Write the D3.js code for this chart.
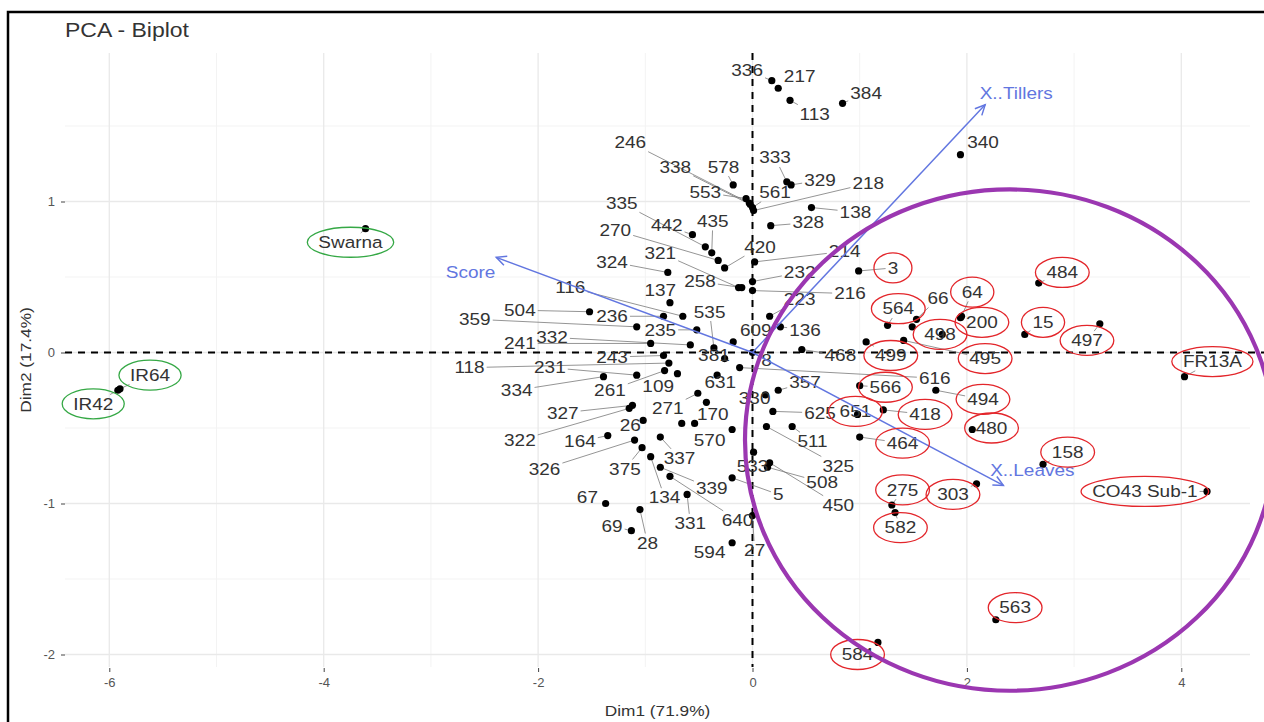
<!DOCTYPE html>
<html>
<head>
<meta charset="utf-8">
<script src="https://cdn.jsdelivr.net/npm/d3@7"></script>
<style>
  body { margin: 0; background: #fff; }
  text { font-family: "Liberation Sans", Arial, sans-serif; }
</style>
</head>
<body>
<svg id="chart" width="1264" height="722"></svg>
<script>
// ---- data: [name, Dim1, Dim2, label Dim1, label Dim2]
const checkVarieties = [
  ["Swarna", -3.61, 0.82, -3.75, 0.73],
  ["IR64", -5.90, -0.24, -5.62, -0.15],
  ["IR42", -5.92, -0.25, -6.15, -0.34]
];

const tolerantLines = [
  ["3", 0.99, 0.54, 1.31, 0.56],
  ["564", 1.26, 0.18, 1.36, 0.29],
  ["64", 1.95, 0.24, 2.05, 0.40],
  ["200", 1.94, 0.23, 2.14, 0.20],
  ["498", 1.77, 0.12, 1.75, 0.12],
  ["499", 1.06, 0.07, 1.29, -0.02],
  ["495", 1.41, 0.08, 2.17, -0.04],
  ["566", 1.00, -0.22, 1.24, -0.23],
  ["494", 1.71, -0.25, 2.15, -0.31],
  ["651", 0.98, -0.41, 0.96, -0.39],
  ["418", 1.22, -0.38, 1.61, -0.41],
  ["464", 1.00, -0.56, 1.40, -0.60],
  ["480", 2.05, -0.51, 2.23, -0.50],
  ["15", 2.54, 0.12, 2.71, 0.20],
  ["484", 2.67, 0.46, 2.89, 0.53],
  ["497", 3.24, 0.19, 3.12, 0.08],
  ["FR13A", 4.03, -0.16, 4.29, -0.06],
  ["158", 2.71, -0.74, 2.94, -0.66],
  ["CO43 Sub-1", 4.24, -0.92, 3.66, -0.92],
  ["303", 2.09, -0.87, 1.87, -0.94],
  ["275", 1.30, -1.01, 1.40, -0.91],
  ["582", 1.33, -1.06, 1.38, -1.16],
  ["563", 2.27, -1.77, 2.45, -1.69],
  ["584", 1.17, -1.92, 0.98, -2.00]
];

const otherLines = [
  ["336", 0.18, 1.80, -0.05, 1.87],
  ["217", 0.24, 1.75, 0.44, 1.83],
  ["113", 0.35, 1.67, 0.58, 1.58],
  ["384", 0.84, 1.65, 1.06, 1.72],
  ["340", 1.94, 1.31, 2.15, 1.39],
  ["246", -0.03, 0.99, -1.14, 1.39],
  ["338", -0.02, 0.98, -0.72, 1.23],
  ["578", -0.18, 1.11, -0.27, 1.23],
  ["553", -0.06, 1.02, -0.44, 1.06],
  ["561", 0.00, 0.96, 0.21, 1.06],
  ["333", 0.32, 1.13, 0.21, 1.29],
  ["329", 0.36, 1.11, 0.63, 1.14],
  ["218", 0.01, 0.94, 1.08, 1.12],
  ["138", 0.55, 0.96, 0.96, 0.93],
  ["328", 0.17, 0.84, 0.52, 0.86],
  ["335", -0.44, 0.70, -1.22, 0.99],
  ["442", -0.56, 0.78, -0.80, 0.84],
  ["435", -0.38, 0.66, -0.37, 0.87],
  ["270", -0.32, 0.61, -1.28, 0.81],
  ["420", -0.26, 0.56, 0.07, 0.70],
  ["321", -0.13, 0.43, -0.86, 0.66],
  ["258", -0.10, 0.43, -0.49, 0.47],
  ["324", -0.79, 0.53, -1.31, 0.60],
  ["137", -0.77, 0.33, -0.86, 0.41],
  ["116", -0.65, 0.24, -1.70, 0.43],
  ["504", -1.52, 0.27, -2.17, 0.28],
  ["359", -1.08, 0.17, -2.59, 0.22],
  ["236", -0.83, 0.24, -1.31, 0.24],
  ["235", -0.52, 0.15, -0.86, 0.15],
  ["535", -0.36, 0.03, -0.40, 0.27],
  ["609", -0.18, 0.07, 0.03, 0.15],
  ["332", -0.58, 0.05, -1.87, 0.10],
  ["241", -0.95, 0.06, -2.17, 0.06],
  ["243", -0.83, -0.02, -1.31, -0.03],
  ["118", -0.78, -0.07, -2.64, -0.10],
  ["381", -0.26, -0.04, -0.36, -0.02],
  ["231", -1.08, -0.15, -1.89, -0.10],
  ["334", -1.39, -0.16, -2.20, -0.25],
  ["261", -0.82, -0.12, -1.33, -0.25],
  ["109", -0.70, -0.14, -0.88, -0.22],
  ["631", -0.33, -0.15, -0.30, -0.20],
  ["327", -1.12, -0.35, -1.77, -0.40],
  ["322", -1.15, -0.37, -2.17, -0.58],
  ["271", -0.51, -0.27, -0.79, -0.37],
  ["26", -1.02, -0.45, -1.14, -0.48],
  ["170", -0.43, -0.33, -0.37, -0.41],
  ["164", -1.35, -0.55, -1.61, -0.59],
  ["570", -0.19, -0.51, -0.40, -0.58],
  ["326", -1.10, -0.58, -1.94, -0.77],
  ["375", -1.03, -0.63, -1.19, -0.77],
  ["337", -0.86, -0.56, -0.68, -0.70],
  ["339", -0.86, -0.76, -0.38, -0.90],
  ["134", -0.95, -0.69, -0.82, -0.96],
  ["331", -0.61, -0.94, -0.58, -1.13],
  ["640", -0.77, -0.82, -0.14, -1.11],
  ["5", -0.19, -0.83, 0.24, -0.94],
  ["67", -1.37, -1.00, -1.54, -0.96],
  ["69", -1.13, -1.18, -1.31, -1.15],
  ["28", -1.05, -1.04, -0.98, -1.26],
  ["594", -0.19, -1.26, -0.40, -1.32],
  ["27", 0.00, -1.08, 0.02, -1.31],
  ["533", 0.01, -0.66, 0.00, -0.75],
  ["508", 0.14, -0.76, 0.65, -0.86],
  ["450", 0.16, -0.73, 0.80, -1.01],
  ["511", 0.37, -0.49, 0.56, -0.59],
  ["325", 0.13, -0.49, 0.80, -0.75],
  ["625", 0.19, -0.39, 0.63, -0.40],
  ["357", 0.24, -0.25, 0.49, -0.20],
  ["330", 0.12, -0.28, 0.02, -0.30],
  ["468", 0.46, 0.02, 0.82, -0.02],
  ["136", 0.26, 0.17, 0.49, 0.15],
  ["223", 0.16, 0.24, 0.44, 0.35],
  ["216", 0.00, 0.41, 0.91, 0.39],
  ["232", 0.00, 0.47, 0.44, 0.53],
  ["214", 0.02, 0.60, 0.86, 0.67],
  ["616", -0.12, -0.10, 1.70, -0.17],
  ["66", 1.53, 0.22, 1.73, 0.36],
  ["8", 0.00, 0.00, 0.13, -0.05]
];

// points whose labels were dropped by the repel step
const unlabeledPoints = [
  [-0.66, -0.47], [-0.54, -0.47], [1.49, 0.17]
];

// variables: [name, Dim1, Dim2, label Dim1, label Dim2]
const variables = [
  ["Score", -2.39, 0.63, -2.63, 0.53],
  ["X..Tillers", 2.17, 1.64, 2.46, 1.72],
  ["X..Leaves", 2.34, -0.88, 2.61, -0.78]
];

const xTicks = [-6, -4, -2, 0, 2, 4];
const yTicks = [-2, -1, 0, 1];
const xMinor = [-5, -3, -1, 1, 3];
const yMinor = [-1.5, -0.5, 0.5, 1.5];

// hand drawn group ellipse (Dim units)
const groupEllipse = { cx: 2.40, cy: -0.58, rx: 2.47, ry: 1.66 };

// ---- layout
const svg = d3.select("#chart");
const panel = { left: 65, right: 1250, top: 53, bottom: 667 };
const STRETCH = 1.15;

const x = d3.scaleLinear().domain([-6, 4]).range([109.3, 1181.3]);
const y = d3.scaleLinear().domain([-2, 1]).range([654.5, 201.5]);

// text helper: the reference renders type slightly wide
function addText(g, px, py, str, size, fill, anchor, rot) {
  return g.append("text")
    .attr("transform", `translate(${px},${py})` + (rot ? ` rotate(${rot})` : "") + ` scale(${STRETCH},1)`)
    .attr("text-anchor", anchor || "middle")
    .attr("font-size", size)
    .attr("fill", fill)
    .text(str);
}

// border of the screenshot
svg.append("path")
  .attr("d", "M8,722 V12 H1264")
  .attr("fill", "none").attr("stroke", "#000").attr("stroke-width", 2.5);

// grid
const grid = svg.append("g");
grid.selectAll(".minx").data(xMinor).enter().append("line")
  .attr("x1", d => x(d)).attr("x2", d => x(d))
  .attr("y1", panel.top).attr("y2", panel.bottom)
  .attr("stroke", "#f3f3f3").attr("stroke-width", 1);
grid.selectAll(".miny").data(yMinor).enter().append("line")
  .attr("y1", d => y(d)).attr("y2", d => y(d))
  .attr("x1", panel.left).attr("x2", panel.right)
  .attr("stroke", "#f3f3f3").attr("stroke-width", 1);
grid.selectAll(".majx").data(xTicks).enter().append("line")
  .attr("x1", d => x(d)).attr("x2", d => x(d))
  .attr("y1", panel.top).attr("y2", panel.bottom)
  .attr("stroke", "#e9e9e9").attr("stroke-width", 1.3);
grid.selectAll(".majy").data(yTicks).enter().append("line")
  .attr("y1", d => y(d)).attr("y2", d => y(d))
  .attr("x1", panel.left).attr("x2", panel.right)
  .attr("stroke", "#e9e9e9").attr("stroke-width", 1.3);

// axes (plain hyphen minus, integer labels)
const fmt = d => String(d);
const yAxis = svg.append("g")
  .attr("transform", `translate(${panel.left},0)`)
  .call(d3.axisLeft(y).tickValues(yTicks).tickFormat(fmt).tickSize(4).tickPadding(6));
const xAxis = svg.append("g")
  .attr("transform", `translate(0,${panel.bottom + 1})`)
  .call(d3.axisBottom(x).tickValues(xTicks).tickFormat(fmt).tickSize(4).tickPadding(6));
[xAxis, yAxis].forEach(a => {
  a.select(".domain").remove();
  a.selectAll(".tick line").attr("stroke", "#444");
  a.selectAll(".tick text").attr("fill", "#555").attr("font-size", 13)
    .attr("font-family", "Liberation Sans, Arial, sans-serif");
});

// zero lines
svg.append("line")
  .attr("x1", x(0)).attr("x2", x(0)).attr("y1", panel.top).attr("y2", panel.bottom)
  .attr("stroke", "#000").attr("stroke-width", 2).attr("stroke-dasharray", "7,6");
svg.append("line")
  .attr("y1", y(0)).attr("y2", y(0)).attr("x1", panel.left).attr("x2", panel.right + 20)
  .attr("stroke", "#000").attr("stroke-width", 2).attr("stroke-dasharray", "7,6");

// titles
addText(svg, panel.left, 37, "PCA - Biplot", 20, "#333", "start");
addText(svg, (panel.left + panel.right) / 2, 716, "Dim1 (71.9%)", 15, "#333");
addText(svg, 31, (panel.top + panel.bottom) / 2, "Dim2 (17.4%)", 15, "#333", "middle", -90);

// individuals
const individuals = checkVarieties.concat(tolerantLines, otherLines);
const segG = svg.append("g");
const ptG = svg.append("g");
const lblG = svg.append("g");

ptG.selectAll("circle.ind")
  .data(individuals.map(d => [d[1], d[2]]).concat(unlabeledPoints))
  .enter().append("circle")
  .attr("cx", d => x(d[0])).attr("cy", d => y(d[1]))
  .attr("r", 3.6).attr("fill", "#000");

const labelBoxes = {};
individuals.forEach(d => {
  const lx = x(d[3]), ly = y(d[4]);
  const t = addText(lblG, lx, ly, d[0], 16.5, "#333").attr("dy", "0.35em");
  const bb = t.node().getBBox();
  const w = bb.width * STRETCH, h = bb.height;
  labelBoxes[d[0]] = { cx: lx, cy: ly, w: w, h: h };
  // repel segment from point to label edge
  const px = x(d[1]), py = y(d[2]);
  const dx = px - lx, dy = py - ly;
  const hw = w / 2 + 2, hh = h / 2;
  if (Math.abs(dx) <= hw && Math.abs(dy) <= hh) return;
  const s = Math.min(dx === 0 ? Infinity : hw / Math.abs(dx), dy === 0 ? Infinity : hh / Math.abs(dy));
  const ex = lx + dx * s, ey = ly + dy * s;
  if (Math.hypot(px - ex, py - ey) < 6) return;
  segG.append("line")
    .attr("x1", px).attr("y1", py).attr("x2", ex).attr("y2", ey)
    .attr("stroke", "#7a7a7a").attr("stroke-width", 0.8);
});

// variable arrows
const arrowColor = "#6276e0";
const arrG = svg.append("g");
variables.forEach(v => {
  const x0 = x(0), y0 = y(0), x1 = x(v[1]), y1 = y(v[2]);
  const ang = Math.atan2(y1 - y0, x1 - x0);
  const head = 11, spread = Math.PI / 7;
  arrG.append("line")
    .attr("x1", x0).attr("y1", y0).attr("x2", x1).attr("y2", y1)
    .attr("stroke", arrowColor).attr("stroke-width", 1.5);
  arrG.append("path")
    .attr("d", `M${x1 - head * Math.cos(ang - spread)},${y1 - head * Math.sin(ang - spread)} L${x1},${y1} L${x1 - head * Math.cos(ang + spread)},${y1 - head * Math.sin(ang + spread)}`)
    .attr("fill", "none").attr("stroke", arrowColor).attr("stroke-width", 1.5);
  addText(arrG, x(v[3]), y(v[4]), v[0], 16.5, arrowColor).attr("dy", "0.35em");
});

// annotations: ellipses round highlighted labels
const annG = svg.append("g");
function ringLabels(rows, color) {
  rows.forEach(d => {
    const b = labelBoxes[d[0]];
    annG.append("ellipse")
      .attr("cx", b.cx).attr("cy", b.cy)
      .attr("rx", Math.max(b.w / 2 + 11, 19)).attr("ry", 15)
      .attr("fill", "none").attr("stroke", color).attr("stroke-width", 1.3);
  });
}
ringLabels(tolerantLines, "#e3262b");
ringLabels(checkVarieties, "#35a845");

annG.append("ellipse")
  .attr("cx", x(groupEllipse.cx)).attr("cy", y(groupEllipse.cy))
  .attr("rx", x(groupEllipse.cx + groupEllipse.rx) - x(groupEllipse.cx))
  .attr("ry", y(groupEllipse.cy - groupEllipse.ry) - y(groupEllipse.cy))
  .attr("fill", "none").attr("stroke", "#9b37b1").attr("stroke-width", 4.2);
</script>
</body>
</html>
